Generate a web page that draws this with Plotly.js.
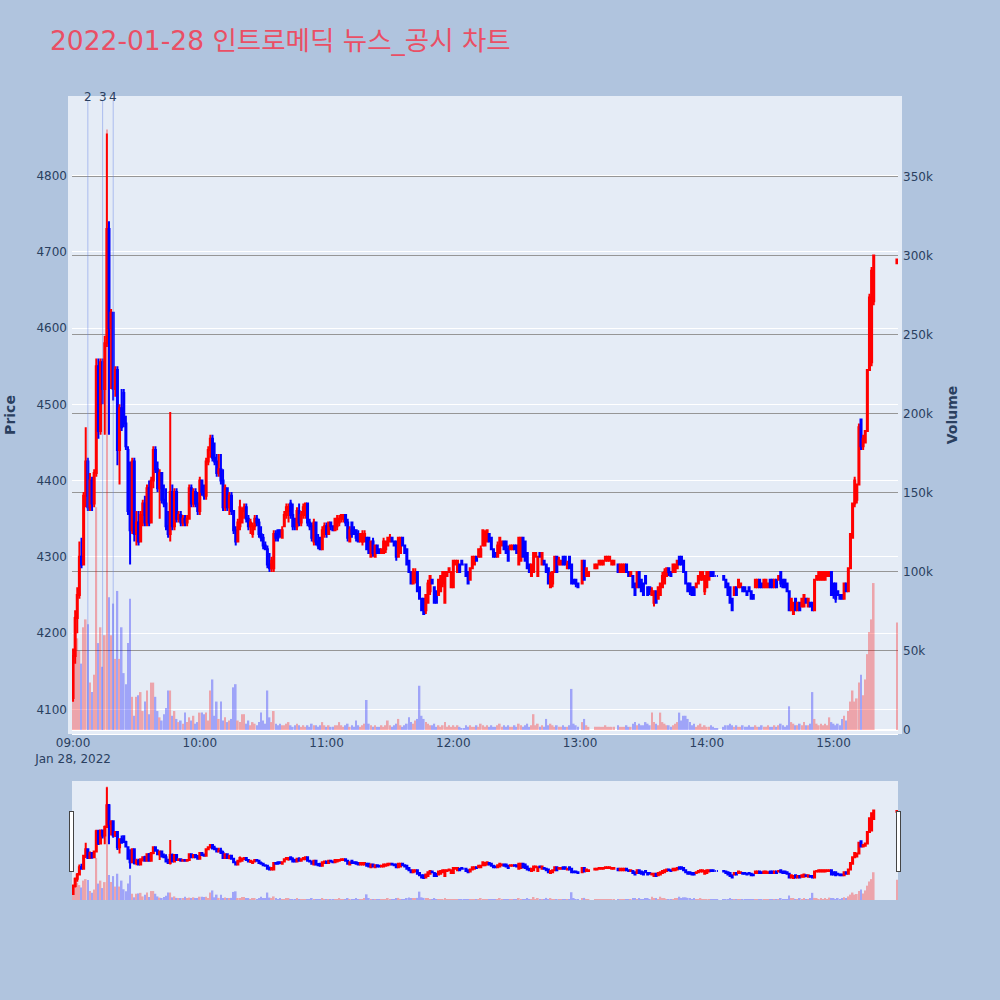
<!DOCTYPE html>
<html>
<head>
<meta charset="utf-8">
<script src="https://cdn.plot.ly/plotly-3.0.1.min.js"></script>
<style>html,body{margin:0;padding:0;background:#b0c4de;}</style>
</head>
<body>
<div id="chart" style="width:1000px;height:1000px"></div>
<script>
// 1-minute bars for 2022-01-28, starting 09:00 (index 0) through the 15:30 close (index 390).
// null = no trade in that minute.
const sessionDate = '2022-01-28';

const opens = [
  4115,4170,4220,4250,4300,4290,4380,4425,4365,4400,
  4370,4410,4550,4465,4555,4520,4580,4730,4600,4620,
  4520,4545,4440,4495,4515,4475,4440,4360,4335,4425,
  4330,4345,4320,4355,4370,4345,4390,4345,4400,4440,
  4415,4390,4410,4375,4370,4340,4330,4385,4340,4385,
  4350,4355,4345,4350,4345,4350,4390,4370,4385,4370,
  4360,4400,4385,4380,4425,4440,4455,4430,4425,4410,
  4415,4400,4365,4390,4365,4380,4360,4335,4320,4340,
  4345,4360,4365,4350,4340,4330,4340,4350,4345,4330,
  4325,4315,4310,4290,4285,4285,4330,4335,4335,4325,
  4340,4355,4360,4370,4355,4350,4340,4360,4345,4355,
  4355,4370,4345,4340,4320,4345,4320,4325,4310,4330,
  4340,4330,4345,4340,4335,4340,4345,4350,4350,4355,
  4345,4320,4345,4335,4335,4330,4320,4320,4320,4325,
  4325,4300,4320,4300,4315,4310,4305,4305,4310,4315,
  4320,4325,4320,4320,4300,4305,4325,4315,4310,4295,
  4280,4265,4270,4280,4260,4245,4245,4230,4240,4255,
  4270,4260,4255,4250,4255,4265,4240,4275,4280,4260,
  4260,4290,4280,4290,4295,4290,4290,4280,4270,4285,
  4290,4300,4300,4300,4315,4315,4320,4330,4325,4310,
  4305,4300,4305,4315,4320,4320,4310,4310,4310,4315,
  4315,4290,4295,4325,4320,4305,4290,4275,4280,4300,
  4275,4305,4290,4295,4290,4285,4260,4265,4280,4300,
  4290,4290,4300,4300,4285,4300,4290,4270,4270,4265,
  null,4265,4295,4275,4275,null,null,4285,4285,4290,
  4290,4290,4295,4295,4295,4290,4290,null,4290,4280,
  4280,4280,4290,4280,4275,4275,4265,4260,4280,4270,
  4265,4275,4260,4260,4250,4240,4255,4245,4250,4260,
  4265,4275,4285,4280,4280,4280,4285,4300,4300,4295,
  4280,4265,4265,4260,4260,4260,4265,4270,4270,4255,
  4260,4270,4280,4280,4275,4275,null,null,4275,4270,
  4265,4260,4245,4250,4260,4260,4260,4260,4260,4255,
  4260,4255,4250,4260,4260,4270,4265,4260,4260,4260,
  4270,4270,4260,4270,4270,4280,4270,4270,4265,4255,
  4230,4225,4245,4230,4240,4235,4235,4245,4235,4240,
  4240,4230,4270,4270,4270,4270,4270,4275,4275,4280,
  4265,4265,4255,4250,4250,4245,4265,4255,4285,4325,
  4370,4375,4395,4480,4445,4450,4465,4545,4555,4635,
  null,null,null,null,null,null,null,null,null,null,
  4685
];

const highs = [
  4180,4230,4260,4320,4325,4385,4470,4430,4410,4405,
  4415,4560,4560,4560,4560,4590,4855,4740,4625,4620,
  4550,4550,4500,4520,4520,4485,4445,4425,4430,4430,
  4360,4360,4360,4375,4380,4395,4400,4405,4445,4445,
  4425,4415,4410,4395,4390,4360,4490,4395,4390,4390,
  4360,4360,4355,4355,4355,4395,4395,4390,4390,4385,
  4405,4400,4395,4430,4445,4460,4460,4450,4435,4435,
  4435,4415,4395,4390,4385,4385,4360,4340,4350,4375,
  4365,4370,4370,4355,4350,4345,4355,4355,4350,4340,
  4330,4320,4315,4305,4300,4335,4335,4335,4335,4340,
  4360,4370,4370,4375,4370,4350,4365,4370,4360,4370,
  4370,4370,4350,4345,4350,4345,4330,4325,4340,4345,
  4345,4345,4345,4340,4350,4355,4355,4355,4355,4355,
  4350,4340,4345,4340,4335,4335,4330,4335,4335,4325,
  4325,4320,4325,4315,4315,4310,4310,4325,4320,4325,
  4330,4325,4320,4320,4325,4325,4325,4315,4310,4295,
  4280,4285,4285,4280,4260,4245,4245,4250,4270,4275,
  4270,4260,4255,4270,4275,4280,4280,4280,4285,4280,
  4295,4295,4295,4290,4295,4290,4290,4280,4285,4300,
  4300,4300,4310,4315,4335,4335,4335,4330,4325,4310,
  4305,4320,4325,4320,4320,4320,4315,4315,4315,4315,
  4315,4325,4325,4325,4320,4305,4290,4290,4305,4305,
  4300,4305,4305,4295,4290,4285,4280,4280,4300,4300,
  4300,4295,4300,4300,4295,4300,4290,4270,4270,4265,
  null,4295,4295,4285,4280,null,null,4290,4290,4295,
  4295,4295,4300,4300,4300,4295,4295,null,4290,4290,
  4290,4290,4290,4280,4280,4275,4265,4280,4280,4270,
  4265,4275,4260,4260,4260,4255,4255,4260,4265,4280,
  4285,4285,4285,4280,4290,4290,4295,4300,4300,4295,
  4280,4265,4265,4260,4260,4265,4275,4280,4280,4275,
  4280,4280,4280,4280,4275,4275,null,null,4275,4270,
  4265,4260,4245,4260,4260,4270,4265,4260,4260,4255,
  4260,4255,4250,4270,4270,4270,4265,4270,4270,4265,
  4270,4270,4270,4270,4275,4280,4270,4270,4265,4255,
  4245,4240,4245,4240,4240,4245,4250,4245,4245,4240,
  4240,4270,4275,4280,4280,4280,4280,4280,4280,4280,
  4265,4265,4255,4250,4250,4265,4265,4285,4330,4370,
  4405,4395,4475,4480,4460,4465,4545,4645,4680,4695,
  null,null,null,null,null,null,null,null,null,null,
  4690
];

const lows = [
  4110,4160,4200,4245,4285,4290,4365,4360,4360,4360,
  4365,4405,4455,4460,4500,4460,4575,4460,4520,4505,
  4510,4420,4395,4465,4470,4440,4355,4290,4330,4320,
  4315,4315,4320,4340,4340,4340,4340,4345,4390,4410,
  4385,4350,4370,4365,4335,4325,4320,4335,4335,4345,
  4345,4340,4340,4340,4340,4350,4365,4365,4365,4355,
  4355,4380,4375,4375,4420,4430,4425,4420,4405,4405,
  4395,4360,4360,4360,4355,4355,4330,4315,4320,4335,
  4345,4350,4345,4335,4330,4325,4335,4340,4325,4320,
  4310,4310,4285,4280,4280,4280,4320,4320,4325,4325,
  4340,4350,4345,4350,4335,4335,4335,4340,4340,4350,
  4350,4340,4335,4320,4315,4315,4310,4310,4310,4325,
  4325,4330,4335,4335,4335,4335,4340,4345,4345,4340,
  4320,4320,4325,4330,4320,4320,4320,4315,4320,4310,
  4305,4300,4300,4300,4305,4305,4305,4305,4305,4315,
  4320,4320,4315,4295,4300,4305,4315,4305,4290,4280,
  4265,4265,4265,4255,4245,4230,4225,4225,4240,4250,
  4265,4240,4240,4250,4255,4260,4240,4275,4280,4260,
  4260,4290,4280,4280,4290,4290,4275,4265,4270,4285,
  4290,4295,4300,4300,4315,4315,4320,4320,4310,4300,
  4300,4300,4305,4315,4310,4305,4295,4310,4310,4310,
  4305,4290,4295,4300,4295,4285,4280,4275,4280,4300,
  4275,4300,4290,4290,4280,4265,4260,4260,4280,4280,
  4290,4290,4290,4290,4285,4285,4265,4265,4260,4260,
  null,4265,4270,4275,4275,null,null,4285,4285,4290,
  4290,4290,4295,4295,4295,4290,4290,null,4280,4280,
  4280,4280,4280,4275,4275,4260,4250,4260,4260,4255,
  4250,4265,4250,4250,4250,4235,4240,4245,4250,4260,
  4265,4275,4275,4275,4280,4280,4285,4290,4290,4280,
  4265,4255,4250,4250,4250,4260,4265,4270,4270,4250,
  4260,4270,4275,4275,4275,4275,null,null,4270,4260,
  4250,4240,4230,4250,4250,4260,4260,4255,4255,4250,
  4255,4245,4245,4260,4260,4260,4260,4260,4260,4260,
  4260,4260,4260,4260,4270,4260,4260,4260,4255,4230,
  4230,4225,4230,4230,4230,4235,4235,4240,4235,4235,
  4230,4230,4270,4270,4270,4270,4270,4275,4275,4250,
  4245,4240,4250,4245,4245,4245,4255,4255,4285,4325,
  4365,4370,4395,4440,4440,4450,4465,4545,4550,4630,
  null,null,null,null,null,null,null,null,null,null,
  4685
];

const closes = [
  4170,4220,4250,4300,4290,4380,4425,4365,4400,4370,
  4410,4550,4465,4555,4520,4580,4730,4600,4620,4520,
  4545,4440,4495,4470,4475,4445,4360,4335,4425,4330,
  4345,4320,4355,4370,4345,4390,4345,4400,4440,4415,
  4390,4410,4375,4370,4340,4330,4385,4340,4385,4350,
  4355,4345,4350,4345,4350,4390,4370,4385,4370,4360,
  4400,4385,4380,4425,4440,4455,4430,4425,4410,4415,
  4400,4365,4390,4365,4380,4360,4335,4320,4345,4365,
  4360,4365,4350,4340,4345,4340,4350,4345,4330,4325,
  4315,4310,4290,4285,4295,4330,4325,4325,4330,4335,
  4355,4365,4365,4355,4340,4340,4360,4345,4355,4365,
  4370,4345,4340,4325,4345,4320,4315,4310,4335,4340,
  4330,4345,4340,4335,4350,4350,4350,4355,4355,4345,
  4325,4335,4330,4330,4325,4320,4330,4330,4330,4310,
  4305,4320,4305,4315,4305,4305,4310,4320,4320,4325,
  4325,4320,4315,4300,4325,4325,4315,4305,4290,4280,
  4265,4280,4280,4255,4245,4230,4225,4250,4265,4275,
  4265,4240,4240,4270,4275,4280,4280,4280,4285,4280,
  4295,4295,4295,4280,4290,4290,4275,4265,4285,4300,
  4300,4295,4310,4310,4335,4330,4335,4320,4310,4300,
  4300,4315,4325,4320,4310,4305,4295,4315,4315,4310,
  4305,4325,4325,4300,4295,4285,4280,4290,4305,4305,
  4300,4300,4305,4290,4280,4265,4275,4280,4300,4280,
  4295,4295,4290,4290,4290,4285,4265,4265,4265,4260,
  null,4295,4270,4285,4280,null,null,4290,4290,4295,
  4295,4295,4300,4300,4300,4295,4295,null,4280,4290,
  4290,4290,4280,4275,4280,4260,4250,4280,4260,4255,
  4250,4265,4250,4255,4255,4255,4240,4260,4265,4275,
  4280,4285,4280,4275,4290,4290,4295,4290,4290,4280,
  4265,4255,4255,4250,4250,4265,4275,4280,4280,4275,
  4280,4280,4275,4275,4275,4275,null,null,4270,4260,
  4250,4240,4230,4260,4250,4270,4265,4255,4255,4250,
  4255,4245,4245,4270,4270,4260,4260,4270,4270,4265,
  4260,4260,4270,4260,4275,4265,4260,4260,4255,4230,
  4245,4240,4230,4240,4230,4245,4250,4240,4245,4235,
  4230,4270,4275,4280,4280,4280,4280,4280,4280,4250,
  4250,4245,4250,4245,4245,4265,4255,4285,4330,4370,
  4400,4395,4470,4445,4455,4465,4545,4640,4675,4695,
  null,null,null,null,null,null,null,null,null,null,
  4690
];

const volumes = [
  45000,72000,58000,50000,42000,65000,70000,67000,30000,24000,
  35000,141000,55000,65000,40000,60000,380000,84000,60000,80000,
  45000,88000,45000,65000,36000,29000,55000,83000,21000,9000,
  21000,22000,24000,12000,18000,25000,10000,30000,30000,21000,
  12000,8000,6000,10000,14000,25000,25000,9000,12000,7000,
  5000,6000,4000,11000,5000,8000,6000,9000,4000,5000,
  11000,11000,10000,11000,6000,25000,32000,9000,18000,7000,
  18000,6000,8000,5000,6000,7000,27000,29000,6000,5000,
  10000,10000,4000,6000,3000,5000,4000,3000,5000,11000,
  6000,4000,25000,8000,5000,12000,4000,3000,4000,3000,
  3000,4000,5000,3000,2000,3000,4000,3000,2000,3000,
  2000,3000,2000,4000,3000,3000,2000,3000,5000,3000,
  2000,3000,2000,2000,3000,3000,5000,3000,2000,3000,
  4000,2000,3000,2000,6000,3000,2000,3000,4000,19000,
  4000,3000,2000,3000,2000,2000,3000,2000,3000,6000,
  3000,2000,3000,4000,7000,3000,2000,3000,4000,8000,
  5000,4000,6000,7000,28000,9000,7000,5000,4000,3000,
  3000,4000,2000,3000,2000,3000,5000,2000,3000,2000,
  3000,2000,3000,2000,1000,1000,3000,2000,3000,2000,
  2000,3000,2000,4000,3000,2000,3000,2000,3000,2000,
  2000,3000,4000,2000,3000,2000,3000,2000,2000,3000,
  2000,4000,3000,2000,3000,4000,2000,3000,10000,3000,
  4000,2000,3000,2000,7000,3000,4000,3000,2000,3000,
  2000,2000,3000,2000,2000,3000,26000,4000,3000,2000,
  null,5000,7000,3000,2000,null,null,2000,2000,2000,
  2000,2000,3000,2000,2000,2000,2000,null,3000,2000,
  2000,2000,3000,2000,2000,4000,5000,3000,4000,3000,
  3000,5000,4000,3000,11000,5000,4000,3000,11000,5000,
  4000,3000,3000,2000,3000,4000,5000,11000,6000,9000,
  9000,7000,5000,3000,4000,2000,3000,4000,2000,3000,
  2000,2000,3000,2000,1000,1000,null,null,2000,3000,
  3000,4000,3000,2000,3000,2000,2000,3000,2000,2000,
  3000,2000,2000,3000,2000,2000,3000,2000,2000,3000,
  2000,2000,3000,2000,3000,4000,3000,2000,3000,15000,
  5000,4000,3000,3000,4000,3000,5000,3000,3000,4000,
  24000,7000,4000,3000,4000,3000,4000,3000,8000,5000,
  4000,3000,4000,3000,7000,9000,6000,12000,18000,25000,
  18000,20000,30000,35000,22000,32000,48000,62000,70000,93000,
  null,null,null,null,null,null,null,null,null,null,
  68000
];

// News / disclosure markers
const newsTimes = ['2022-01-28 09:07', '2022-01-28 09:14', '2022-01-28 09:19'];
const newsLabels = ['2', '3', '4'];

// minute timestamps for each row
function minuteStamp(i) {
  const total = 9 * 60 + i;
  const hh = String(Math.floor(total / 60)).padStart(2, '0');
  const mm = String(total % 60).padStart(2, '0');
  return sessionDate + ' ' + hh + ':' + mm;
}
const times = opens.map((_, i) => minuteStamp(i));

// volume bars follow the candle direction
let prevClose = null, rising = true;
const volColors = closes.map((c, i) => {
  const o = opens[i];
  if (c === null) return 'rgba(0,0,0,0)';
  if (c === o) {
    if (prevClose !== null && c !== prevClose) rising = c > prevClose;
  } else {
    rising = c > o;
  }
  prevClose = c;
  return rising ? 'red' : 'blue';
});

const viewRange = ['2022-01-28 08:59:30', '2022-01-28 15:30:30'];

const candles = {
  type: 'candlestick',
  x: times, open: opens, high: highs, low: lows, close: closes,
  increasing: {line: {color: 'red', width: 2}, fillcolor: 'red'},
  decreasing: {line: {color: 'blue', width: 2}, fillcolor: 'blue'},
  whiskerwidth: 0,
  name: 'Price',
  xaxis: 'x', yaxis: 'y',
  hoverinfo: 'skip'
};

const volumeBars = {
  type: 'bar',
  x: times, y: volumes,
  marker: {color: volColors, line: {width: 0}},
  opacity: 0.3,
  name: 'Volume',
  xaxis: 'x', yaxis: 'y2',
  hoverinfo: 'skip'
};

const shapes = newsTimes.map(t => ({
  type: 'line', xref: 'x', yref: 'paper',
  x0: t, x1: t, y0: 0, y1: 1,
  line: {color: 'rgba(100,130,230,0.45)', width: 1}
}));

const annotations = newsTimes.map((t, i) => ({
  x: t, y: 1, xref: 'x', yref: 'paper',
  yanchor: 'middle', yshift: 3,
  text: newsLabels[i], showarrow: false,
  font: {size: 12, color: '#2a3f5f'}
}));

const baseFont = '"DejaVu Sans", verdana, sans-serif';

const layout = {
  width: 1000, height: 1000,
  paper_bgcolor: '#b0c4de',
  plot_bgcolor: '#e5ecf6',
  font: {family: baseFont, size: 12, color: '#2a3f5f'},
  title: {
    text: '2022-01-28 인트로메딕 뉴스_공시 차트',
    x: 0.05, xanchor: 'left',
    y: 0.959, yref: 'container', yanchor: 'middle',
    font: {size: 26.5, color: '#ea4f65', family: '"DejaVu Sans", "Noto Sans CJK KR", sans-serif'}
  },
  margin: {l: 72, r: 102, t: 100, b: 100, pad: 4},
  showlegend: false,
  bargap: 0.2,
  xaxis: {
    type: 'date', range: viewRange,
    showgrid: false, zeroline: false, ticks: '',
    linecolor: 'white',
    ticklabelstandoff: -2,
    rangeslider: {visible: true, thickness: 0.14875, range: viewRange}
  },
  yaxis: {
    title: {text: '<b>Price</b>', font: {size: 14}, standoff: 21},
    range: [4073, 4899],
    gridcolor: 'white', zeroline: false, ticks: '',
    automargin: false
  },
  yaxis2: {
    title: {text: '<b>Volume</b>', font: {size: 14}, standoff: 19},
    overlaying: 'y', side: 'right',
    range: [0, 398700],
    showgrid: true, gridcolor: '#969696', gridwidth: 1,
    zeroline: true, zerolinecolor: 'white', zerolinewidth: 2,
    ticks: '', automargin: false
  },
  shapes: shapes,
  annotations: annotations
};

Plotly.newPlot('chart', [candles, volumeBars], layout, {displayModeBar: false});
</script>
</body>
</html>
